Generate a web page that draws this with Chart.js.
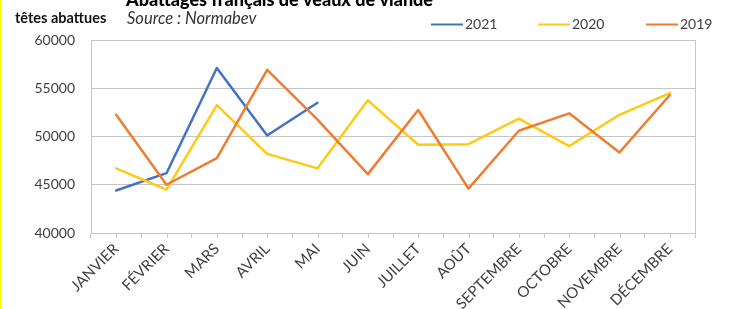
<!DOCTYPE html>
<html>
<head>
<meta charset="utf-8">
<script src="https://cdn.jsdelivr.net/npm/chart.js@4"></script>
<style>
  html, body { margin: 0; padding: 0; background: #fff; }
  #wrap { position: relative; width: 753px; height: 309px; }
</style>
</head>
<body>
<div id="wrap"><canvas id="myChart" width="753" height="309"></canvas></div>
<script>
// months and monthly slaughter counts
var mois = ['JANVIER', 'FÉVRIER', 'MARS', 'AVRIL', 'MAI', 'JUIN', 'JUILLET', 'AOÛT', 'SEPTEMBRE', 'OCTOBRE', 'NOVEMBRE', 'DÉCEMBRE'];
var tetes2021 = [44400, 46200, 57100, 50100, 53500];
var tetes2020 = [46700, 44500, 53250, 48200, 46700, 53750, 49150, 49200, 51850, 49000, 52250, 54500];
var tetes2019 = [52250, 45000, 47750, 56900, 51750, 46100, 52750, 44600, 50600, 52400, 48350, 54300];
var annees = ['2021', '2020', '2019'];

var FONT = 'Lato, "Open Sans", sans-serif';
var GRIS = '#c6c6c6';
var TEXTE = '#404040';

// titles, legend, yellow edge and the small centre ticks on the x axis
var decor = {
  id: 'decor',
  beforeDraw: function(chart) {
    var c = chart.ctx;
    c.save();
    c.fillStyle = '#fff';
    c.fillRect(0, 0, chart.width, chart.height);
    c.restore();
  },
  afterDraw: function(chart) {
    var c = chart.ctx;
    var area = chart.chartArea;
    c.save();
    // yellow strip on the left
    c.fillStyle = '#ffff00';
    c.fillRect(0, 0, 2, chart.height);

    // title, cut by the top edge
    c.fillStyle = '#000';
    c.font = '900 18px ' + FONT;
    c.textBaseline = 'alphabetic';
    c.textAlign = 'left';
    c.fillText('Abattages français de veaux de viande', 126, 6);

    c.font = 'bold 14.5px ' + FONT;
    c.fillStyle = '#111';
    c.textBaseline = 'middle';
    c.fillText('têtes abattues', 15, 18);

    c.font = 'italic 16.5px ' + FONT;
    c.fillStyle = '#333';
    c.fillText('Source : Normabev', 127, 19);

    // legend
    var xs = [431, 538, 646];
    c.font = '14px ' + FONT;
    chart.data.datasets.forEach(function(ds, i) {
      c.strokeStyle = ds.borderColor;
      c.lineWidth = 2;
      c.beginPath();
      c.moveTo(xs[i], 24.5);
      c.lineTo(xs[i] + 32, 24.5);
      c.stroke();
      c.fillStyle = TEXTE;
      c.fillText(ds.label, xs[i] + 34, 24.5);
    });

    // right border of the plot
    c.strokeStyle = GRIS;
    c.lineWidth = 1;
    c.beginPath();
    c.moveTo(Math.round(area.right) + 0.5, area.top);
    c.lineTo(Math.round(area.right) + 0.5, area.bottom);
    c.stroke();

    // ticks at category centres
    var xs2 = chart.scales.x;
    for (var k = 0; k < mois.length; k++) {
      var px = Math.round(xs2.getPixelForValue(k)) + 0.5;
      c.beginPath();
      c.moveTo(px, area.bottom);
      c.lineTo(px, area.bottom + 5);
      c.stroke();
    }
    c.restore();
  }
};

var ctx = document.getElementById('myChart');
var myChart = new Chart(ctx, {
  type: 'line',
  data: {
    labels: mois,
    datasets: [
      { label: annees[0], data: tetes2021, borderColor: '#4472c4', backgroundColor: '#4472c4', order: 3 },
      { label: annees[1], data: tetes2020, borderColor: '#ffc914', backgroundColor: '#ffc914', order: 2 },
      { label: annees[2], data: tetes2019, borderColor: '#ed7d31', backgroundColor: '#ed7d31', order: 1 }
    ]
  },
  options: {
    responsive: false,
    animation: false,
    layout: { padding: { left: 0, right: 58, top: 40, bottom: 0 } },
    elements: {
      line: { borderWidth: 2.5, tension: 0, borderCapStyle: 'round', borderJoinStyle: 'round' },
      point: { radius: 0, hoverRadius: 0 }
    },
    scales: {
      x: {
        offset: true,
        grid: { offset: true, drawOnChartArea: false, color: GRIS, tickLength: 5 },
        border: { color: GRIS },
        ticks: {
          autoSkip: false, minRotation: 45, maxRotation: 45, padding: 2,
          color: TEXTE, font: { family: FONT, size: 15 }
        },
        afterFit: function(s) { s.height = 76; }
      },
      y: {
        min: 40000,
        max: 60000,
        grid: { color: GRIS, drawTicks: false },
        border: { color: GRIS },
        ticks: {
          stepSize: 5000, padding: 16, color: TEXTE,
          font: { family: FONT, size: 14 },
          callback: function(v) { return String(v); }
        },
        afterFit: function(s) { s.width = 91; }
      }
    },
    plugins: {
      legend: { display: false },
      tooltip: { enabled: false }
    }
  },
  plugins: [decor]
});
</script>
</body>
</html>
